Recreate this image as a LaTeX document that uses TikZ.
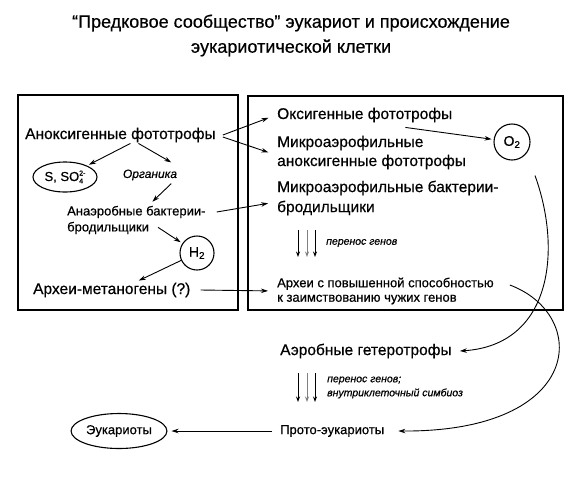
\documentclass[tikz,border=0pt]{standalone}
\usepackage{fontspec}
\setmainfont{Liberation Sans}[FakeBold=0.5]
\usetikzlibrary{arrows.meta,shapes.geometric}
\begin{document}
\begin{tikzpicture}[x=1pt,y=-1pt,
  arr/.style={-{Stealth[length=7pt,width=4.5pt]}, line width=0.9pt},
  garr/.style={-{Stealth[length=5.5pt,width=4pt]}, line width=0.8pt},
  big/.style={font=\fontsize{15.5}{19}\selectfont, inner sep=1pt},
  mid/.style={font=\fontsize{13}{14.5}\selectfont, inner sep=1pt},
  lbl/.style={font=\fontsize{10.5}{14}\selectfont\itshape, inner sep=1pt},
  boxst/.style={draw, line width=1.6pt, inner sep=0pt},
  ring/.style={draw, line width=1.1pt, inner sep=0pt},
  ]
\useasboundingbox[fill=white] (0,0) rectangle (580,483);

\node[font=\fontsize{18}{25}\selectfont, align=center] (title) at (291,35.5)
  {“Предковое сообщество” эукариот и происхождение\\эукариотической клетки};

\node[boxst, minimum width=220, minimum height=215] (lbox) at (128,202.5) {};
\node[boxst, minimum width=315, minimum height=214] (rbox) at (405.5,203) {};

% left box
\node[big, anchor=west] (ano) at (24,135) {Аноксигенные фототрофы};
\node[ring, ellipse, minimum width=64, minimum height=30, mid] (sso) at (65,177)
  {S, SO\rlap{\raisebox{-0.35ex}{\fontsize{7}{7}\selectfont 4}}\raisebox{0.8ex}{\fontsize{7}{7}\selectfont 2-}};
\node[lbl, font=\fontsize{12}{14}\selectfont\itshape] (org) at (150,175) {Органика};
\node[mid, anchor=west, align=left, font=\fontsize{13}{16}\selectfont] (ana) at (66,220) {Анаэробные бактерии-\\бродильщики};
\node[ring, circle, minimum size=34, font=\fontsize{14}{14}\selectfont] (h2) at (197,253) {H\textsubscript{2}};
\node[big, anchor=west] (arch) at (32,290) {Археи-метаногены (?)};

% right box
\node[big, anchor=west] (oxy) at (276,115) {Оксигенные фототрофы};
\node[big, anchor=west, align=left] (mic1) at (276,152.5) {Микроаэрофильные\\аноксигенные фототрофы};
\node[big, anchor=west, align=left, font=\fontsize{15.5}{20}\selectfont] (mic2) at (276,198) {Микроаэрофильные бактерии-\\бродильщики};
\node[ring, circle, minimum size=36, font=\fontsize{14}{14}\selectfont] (o2) at (512,142) {O\textsubscript{2}};
\node[lbl, anchor=west] (gt1) at (325,243) {перенос генов};
\node[mid, anchor=west, align=left] (archp) at (276,291) {Археи с повышенной способностью\\к заимствованию чужих генов};

% lower part
\node[big, anchor=west] (aer) at (279,351) {Аэробные гетеротрофы};
\node[lbl, anchor=west, align=left] (gt2) at (326,387.5) {перенос генов;\\внутриклеточный симбиоз};
\node[mid, anchor=west] (proto) at (279,431) {Прото-эукариоты};
\node[ring, ellipse, minimum width=92, minimum height=35, mid] (euk) at (119,431) {Эукариоты};

% connectors in left box
\draw[arr, shorten >=2pt] ([shift={(10,0)}]ano.south) -- (sso);
\draw[arr] ([shift={(18,0)}]ano.south) -- ([shift={(-7,-6)}]org.north east);
\draw[arr] ([shift={(-7,2)}]org.south east) -- ([shift={(16,-3)}]ana.north);
\draw[arr, shorten >=2pt] ([shift={(92,-8)}]ana.south west) -- (h2);
\draw[arr] (h2.205) -- ([shift={(27,-1)}]arch.north);

% left to right
\draw[arr, shorten >=8pt] ([shift={(6,0)}]ano.east) -- (oxy.west);
\draw[arr, shorten >=8pt] ([shift={(6,2)}]ano.east) -- ([shift={(0,2.5)}]mic1.west);
\draw[arr, shorten >=8pt] ([shift={(10,-8)}]ana.east) -- ([shift={(0,4)}]mic2.west);
\draw[arr, shorten >=8pt] ([shift={(9,0)}]arch.east) -- (archp.west);

% right box
\draw[arr, shorten >=2pt] ([shift={(-48,4)}]oxy.south east) -- (o2);
\draw[garr] ([shift={(-27,-13)}]gt1.west) -- ([shift={(-27,14)}]gt1.west);
\draw[garr, gray] ([shift={(-18,-13)}]gt1.west) -- ([shift={(-18,14)}]gt1.west);
\draw[garr] ([shift={(-10,-13)}]gt1.west) -- ([shift={(-10,14)}]gt1.west);

% curves
\draw[arr] ([shift={(23,15)}]o2.south) .. controls (562,250) and (552,345) .. ([shift={(7,0)}]aer.east);
\draw[arr] ([shift={(15,-6)}]archp.east) .. controls (590,315) and (585,432) .. ([shift={(13,0)}]proto.east);

% lower
\draw[garr] ([shift={(-28,-14.5)}]gt2.west) -- ([shift={(-28,14.5)}]gt2.west);
\draw[garr, gray] ([shift={(-19,-14.5)}]gt2.west) -- ([shift={(-19,14.5)}]gt2.west);
\draw[garr] ([shift={(-11,-14.5)}]gt2.west) -- ([shift={(-11,14.5)}]gt2.west);
\draw[arr, shorten >=4pt] ([shift={(-7,0)}]proto.west) -- (euk);
\end{tikzpicture}
\end{document}
